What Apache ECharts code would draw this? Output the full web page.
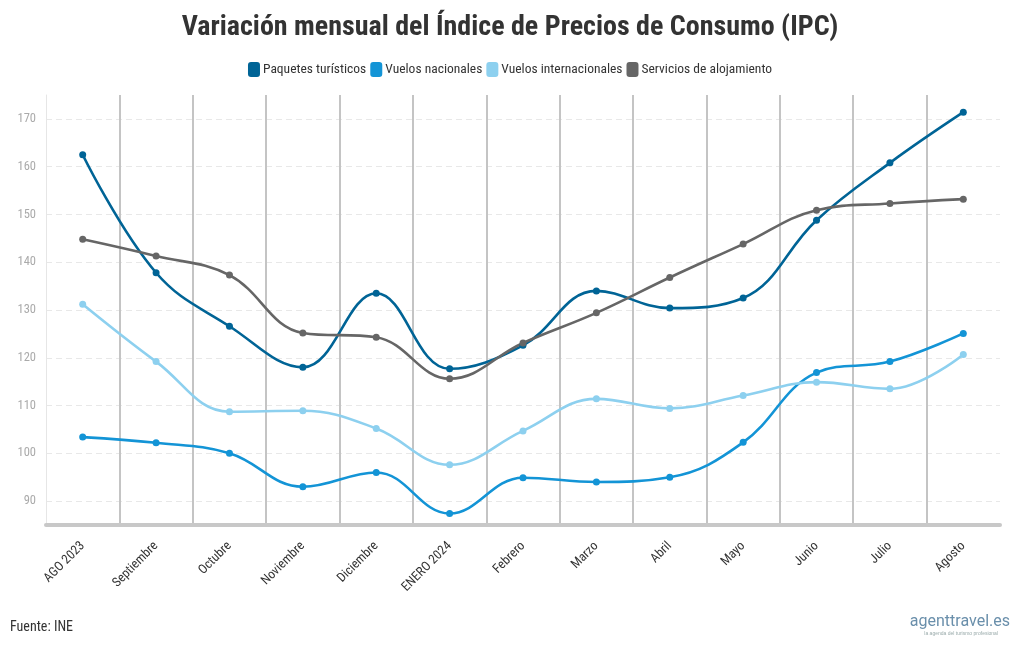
<!DOCTYPE html>
<html><head><meta charset="utf-8">
<script src="https://cdn.jsdelivr.net/npm/echarts@6/dist/echarts.min.js"></script>
<style>html,body{margin:0;padding:0;background:#fff}#c{width:1020px;height:650px}</style>
</head><body><div id="c"></div>
<script>
const categories = ['AGO 2023','Septiembre','Octubre','Noviembre','Diciembre','ENERO 2024','Febrero','Marzo','Abril','Mayo','Junio','Julio','Agosto'];
const paquetesTuristicos = [162.5,137.8,126.6,118.0,133.5,117.7,122.6,134.0,130.4,132.5,148.8,160.8,171.4];
const vuelosNacionales = [103.4,102.2,100.0,93.0,96.0,87.4,94.9,94.0,95.0,102.3,116.9,119.2,125.1];
const vuelosInternacionales = [131.2,119.2,108.7,108.9,105.2,97.6,104.7,111.4,109.4,112.1,114.9,113.5,120.7];
const serviciosAlojamiento = [144.8,141.3,137.3,125.2,124.3,115.6,123.1,129.4,136.8,143.8,150.9,152.3,153.2];
const seriesNames = ['Paquetes turísticos','Vuelos nacionales','Vuelos internacionales','Servicios de alojamiento'];
const colors = ['#006496','#1394d6','#8dd0ef','#666666'];
const FONT = "'Roboto Condensed','Liberation Sans Narrow','Arial Narrow',Roboto,sans-serif";

const chart = echarts.init(document.getElementById('c'), null, {renderer:'canvas'});
const data = [paquetesTuristicos, vuelosNacionales, vuelosInternacionales, serviciosAlojamiento];
chart.setOption({
  backgroundColor:'#fff',
  color: colors,
  title:{text:'Variación mensual del Índice de Precios de Consumo (IPC)', left:'center', top:9,
    textStyle:{fontFamily:FONT, fontWeight:'bold', fontSize:28, color:'#333'}},
  legend:{top:57, left:'center', icon:'roundRect', itemWidth:12, itemHeight:15, itemGap:4,
    textStyle:{fontFamily:FONT, fontSize:13.5, color:'#333', padding:[0,0,0,-2]}, data:seriesNames},
  grid:{left:46, right:20, top:95, height:430},
  xAxis:{type:'category', data:categories, boundaryGap:true,
    axisLine:{lineStyle:{color:'#c8c8c8', width:4}},
    axisTick:{alignWithLabel:true, length:8, lineStyle:{color:'#c8c8c8', width:4}},
    axisLabel:{rotate:45, fontFamily:FONT, fontSize:13, color:'#333', margin:19, interval:0},
    splitLine:{show:true, showMinLine:false, showMaxLine:false, lineStyle:{color:'#c4c4c4', width:2}}},
  yAxis:{type:'value', min:85, max:175, splitNumber:9,
    axisLine:{show:true, lineStyle:{color:'#e6e6e6', width:1}},
    axisTick:{show:false},
    axisLabel:{showMinLabel:false, showMaxLabel:false, fontFamily:FONT, fontSize:12.5, color:'#aaaaaa', margin:10},
    splitLine:{show:true, showMinLine:false, showMaxLine:false, lineStyle:{color:'#e8e8e8', type:[6,4], width:1}}},
  series: seriesNames.map((n,i)=>({name:n, type:'line', smooth:0.4, data:data[i], symbol:'circle', symbolSize:7,
    lineStyle:{width:2.6, color:colors[i]}, itemStyle:{color:colors[i]}})),
  graphic:[
    {type:'text', left:10, top:620, style:{text:'Fuente: INE', font:"14px "+FONT, fill:'#333'}},
    {type:'text', right:10, top:614, style:{text:'agenttravel.es', font:"16px Roboto, sans-serif", fill:'#6a8fab'}},
    {type:'text', right:22, top:631, style:{text:'la agenda del turismo profesional', font:"5px sans-serif", fill:'#9aa'}}
  ]
});
</script></body></html>
